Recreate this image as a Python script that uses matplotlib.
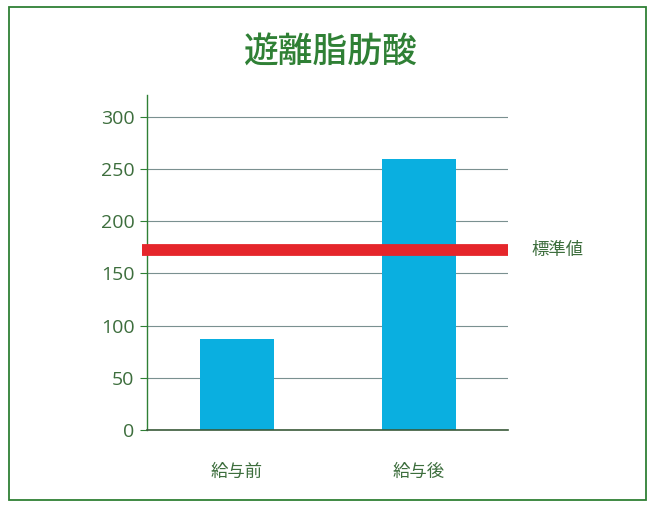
import matplotlib.pyplot as plt
from matplotlib.patches import Rectangle

plt.rcParams["font.family"] = ["Noto Sans CJK JP", "DejaVu Sans"]

TITLE = "遊離脂肪酸"
CATEGORIES = ["給与前", "給与後"]
VALUES = [87, 260]
STANDARD = 172
STANDARD_LABEL = "標準値"
YTICKS = [0, 50, 100, 150, 200, 250, 300]

GREEN = "#2f8035"
TEXT_GREEN = "#3d6e3d"
BAR_BLUE = "#0aafe0"
RED = "#e5262b"

fig = plt.figure(figsize=(6.51, 5.07), dpi=100)
fig.patch.set_facecolor("white")
# green frame round the whole figure
fig.patches.append(Rectangle((9 / 651, 7 / 507), 637 / 651, 493 / 507,
    transform=fig.transFigure, fill=False, edgecolor=GREEN, linewidth=1.3))

ax = fig.add_axes([147 / 651, 1 - 430 / 507, 361 / 651, 335 / 507])
ax.set_xlim(-0.495, 1.489)
ax.set_ylim(0, 321)

x = range(len(CATEGORIES))
ax.bar(x, VALUES, width=0.41, color=BAR_BLUE, zorder=2)
ax.hlines(STANDARD, -0.525, 1.489, colors=RED, linewidth=8.5, zorder=3,
    clip_on=False)
ax.text(1.62, STANDARD, STANDARD_LABEL, color=TEXT_GREEN, fontsize=12.5,
    va="center", ha="left")

ax.set_yticks(YTICKS)
ax.yaxis.grid(True, color="#7a9090", linewidth=0.8, zorder=0)
ax.set_axisbelow(True)
ax.tick_params(axis="y", length=5, color=GREEN, labelcolor=TEXT_GREEN,
    labelsize=14, pad=4)
for lab in ax.get_yticklabels():
    lab.set_family(["Open Sans", "DejaVu Sans"])
ax.set_xticks(list(x))
ax.set_xticklabels(CATEGORIES)
ax.tick_params(axis="x", length=0, labelcolor=TEXT_GREEN, labelsize=12.5,
    pad=24)
for s in ["top", "right"]:
    ax.spines[s].set_visible(False)
ax.spines["left"].set_color(GREEN)
ax.spines["bottom"].set_color("#3a5a3a")
ax.spines["left"].set_linewidth(1.0)
ax.spines["bottom"].set_linewidth(1.2)

fig.text(331 / 651, 1 - 53 / 507, TITLE, color=GREEN, fontsize=25,
    fontweight="medium", ha="center", va="center")

plt.savefig("out.png", dpi=100)
